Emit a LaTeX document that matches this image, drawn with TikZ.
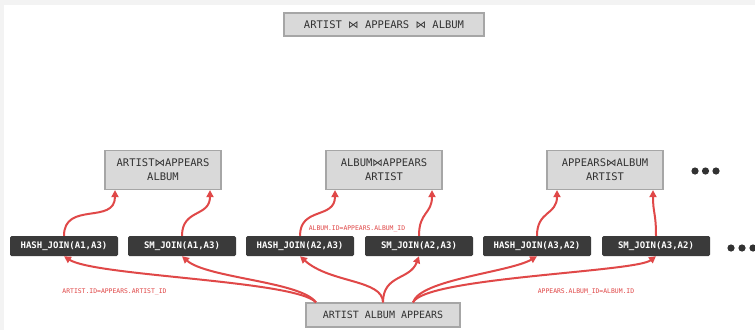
\documentclass[tikz,border=0pt]{standalone}
\usepackage{fontspec}
\setmonofont{DejaVu Sans Mono}
\newfontfamily\joinsym{DejaVu Sans}
\usepackage{tikz}
\usetikzlibrary{arrows.meta}
\definecolor{joinred}{RGB}{224,72,72}
\definecolor{boxgray}{RGB}{217,217,217}
\definecolor{boxline}{RGB}{166,166,166}
\definecolor{opdark}{RGB}{58,58,58}
\definecolor{txtgray}{RGB}{50,50,50}
\definecolor{pagegray}{RGB}{243,243,243}
\newcommand{\jn}{{\joinsym ⋈}}

\begin{document}
\begin{tikzpicture}[x=1pt,y=1pt,
	relbox/.style={draw=boxline,fill=boxgray,line width=1.2pt,text=txtgray,inner sep=0pt,align=center,font=\ttfamily\fontsize{10.5}{14}\selectfont},
	opbox/.style={fill=opdark,rounded corners=1.5pt,text=white,inner sep=0pt,minimum width=108pt,minimum height=20pt,font=\ttfamily\bfseries\fontsize{9}{11}\selectfont},
	cond/.style={text=joinred,inner sep=0pt,font=\ttfamily\fontsize{6.4}{8}\selectfont},
	flow/.style={draw=joinred,line width=2pt,-{Triangle[length=7pt,width=7pt]}}]
	
	% Page
	\fill[pagegray] (0,0) rectangle (755,-330);
	\fill[white] (4,-5) rectangle (755,-330);
	\useasboundingbox (0,0) rectangle (755,-330);
	
	% Final plan
	\node[relbox,minimum width=200pt,minimum height=23pt] (full) at (384,-24.5) {ARTIST \jn{} APPEARS \jn{} ALBUM};
	
	% Partial plans
	\node[relbox,minimum width=116pt,minimum height=39pt] (artapp) at (163,-170) {ARTIST\jn{}APPEARS\\ALBUM};
	\node[relbox,minimum width=116pt,minimum height=39pt] (albapp) at (384,-170) {ALBUM\jn{}APPEARS\\ARTIST};
	\node[relbox,minimum width=116pt,minimum height=39pt] (appalb) at (605,-170) {APPEARS\jn{}ALBUM\\ARTIST};
	\foreach \i in {0,1,2} {
		\fill[txtgray] (695+10.5*\i,-171) circle (3.6pt);
	}
	
	% Join operators
	\node[opbox] (hjA) at (64,-246) {HASH\_JOIN(A1,A3)};
	\node[opbox] (smA) at (182,-246) {SM\_JOIN(A1,A3)};
	\node[opbox] (hjB) at (300,-246) {HASH\_JOIN(A2,A3)};
	\node[opbox] (smB) at (419,-246) {SM\_JOIN(A2,A3)};
	\node[opbox] (hjC) at (537,-246) {HASH\_JOIN(A3,A2)};
	\node[opbox] (smC) at (656,-246) {SM\_JOIN(A3,A2)};
	\foreach \i in {0,1,2} {
		\fill[txtgray] (731+11*\i,-248) circle (3.6pt);
	}
	
	% Base relations
	\node[relbox,minimum width=154pt,minimum height=24pt,font=\ttfamily\fontsize{10}{12}\selectfont] (base) at (383,-315) {ARTIST ALBUM APPEARS};
	
	% Join conditions
	\node[cond] (condArtist) at (114.5,-292) {ARTIST.ID=APPEARS.ARTIST\_ID};
	\node[cond] (condAlbumA) at (357,-229) {ALBUM.ID=APPEARS.ALBUM\_ID};
	\node[cond] (condAlbumB) at (586,-292) {APPEARS.ALBUM\_ID=ALBUM.ID};
	
	% Base -> operators
	\draw[flow] ([xshift=-67pt]base.north) .. controls +(-20,22) and +(31,-20) .. (hjA.south);
	\draw[flow] ([xshift=-67pt]base.north) .. controls +(-15,21) and +(25,-22) .. (smA.south);
	\draw[flow] (base.north) .. controls +(0,23) and +(30,-27) .. (hjB.south);
	\draw[flow] (base.north) .. controls +(0,28) and +(-9,-24) .. (smB.south);
	\draw[flow] ([xshift=30pt]base.north) .. controls +(7,23) and +(-27,-16) .. (hjC.south);
	\draw[flow] ([xshift=30pt]base.north) .. controls +(12,25) and +(-21,-16) .. (smC.south);
	
	% Operators -> partial plans
	\draw[flow] (hjA.north) to[out=90,in=-90,looseness=1.3] ([xshift=-48pt]artapp.south);
	\draw[flow] (smA.north) to[out=90,in=-90,looseness=1.3] ([xshift=47pt]artapp.south);
	\draw[flow] (hjB.north) to[out=90,in=-90,looseness=1.3] ([xshift=-49pt]albapp.south);
	\draw[flow] (smB.north) to[out=90,in=-90,looseness=1.3] ([xshift=48pt]albapp.south);
	\draw[flow] (hjC.north) to[out=90,in=-90,looseness=1.3] ([xshift=-48pt]appalb.south);
	\draw[flow] (smC.north) to[out=90,in=-90,looseness=1.3] ([xshift=48pt]appalb.south);
	
\end{tikzpicture}
\end{document}
